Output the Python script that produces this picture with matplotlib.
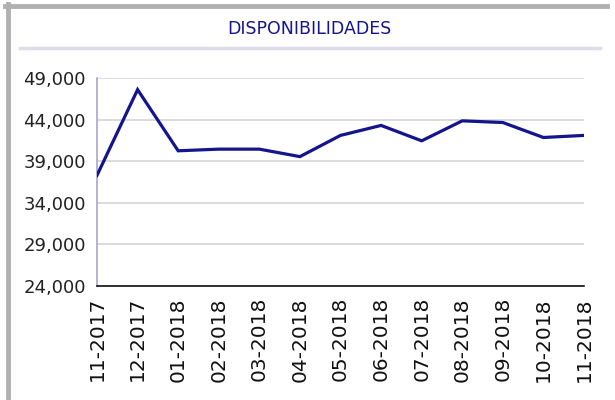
import matplotlib
matplotlib.use("Agg")
import matplotlib.pyplot as plt
from matplotlib.lines import Line2D

# ---------------------------------------------------------------------------
# Data
# ---------------------------------------------------------------------------
months = ["11-2017", "12-2017", "01-2018", "02-2018", "03-2018", "04-2018",
          "05-2018", "06-2018", "07-2018", "08-2018", "09-2018", "10-2018",
          "11-2018"]
values = [37300, 47600, 40250, 40450, 40450, 39550,
          42100, 43300, 41450, 43850, 43650, 41850, 42100]
y_ticks = [24000, 29000, 34000, 39000, 44000, 49000]

NAVY = "#14148c"

# ---------------------------------------------------------------------------
# Plot
# ---------------------------------------------------------------------------
fig = plt.figure(figsize=(6.15, 4.0), dpi=100)
ax = fig.add_axes([97 / 615, 1 - 286 / 400, (584 - 97) / 615, (286 - 78) / 400])

x = list(range(len(months)))
ax.plot(x, values, color=NAVY, linewidth=2.3, solid_joinstyle="miter", zorder=3)

ax.set_xlim(0, len(months) - 1)
ax.set_ylim(y_ticks[0], y_ticks[-1])
ax.set_yticks(y_ticks)
ax.set_yticklabels([f"{v:,}" for v in y_ticks], fontsize=13, color="#222222")
ax.set_xticks(x)
ax.set_xticklabels(months, rotation=90, fontsize=14.5, color="#111111")
ax.tick_params(axis="y", length=0, pad=8)
ax.tick_params(axis="x", length=0, pad=8)

ax.grid(axis="y", color="#d4d4d4", linewidth=1.2)
ax.set_axisbelow(True)
for side in ("top", "right"):
    ax.spines[side].set_visible(False)
ax.spines["left"].set_color("#a8a8cc")
ax.spines["left"].set_linewidth(1.2)
ax.spines["bottom"].set_color("#111111")
ax.spines["bottom"].set_linewidth(1.2)

# Title and separator
fig.text(309 / 615, 1 - 28.5 / 400, "DISPONIBILIDADES", ha="center", va="center",
         fontsize=12.5, color=NAVY, family="DejaVu Sans")
fig.add_artist(Line2D([20 / 615, 600 / 615], [1 - 48 / 400] * 2,
                      color="#dcdcea", linewidth=2.5, transform=fig.transFigure))

# Outer grey frame (top and left)
fig.add_artist(Line2D([5 / 615, 607 / 615], [1 - 6 / 400] * 2,
                      color="#b0b0b0", linewidth=3.5, transform=fig.transFigure))
fig.add_artist(Line2D([7.5 / 615] * 2, [0, 1 - 4 / 400],
                      color="#b0b0b0", linewidth=3.5, transform=fig.transFigure))

fig.savefig("out.png", dpi=100)
